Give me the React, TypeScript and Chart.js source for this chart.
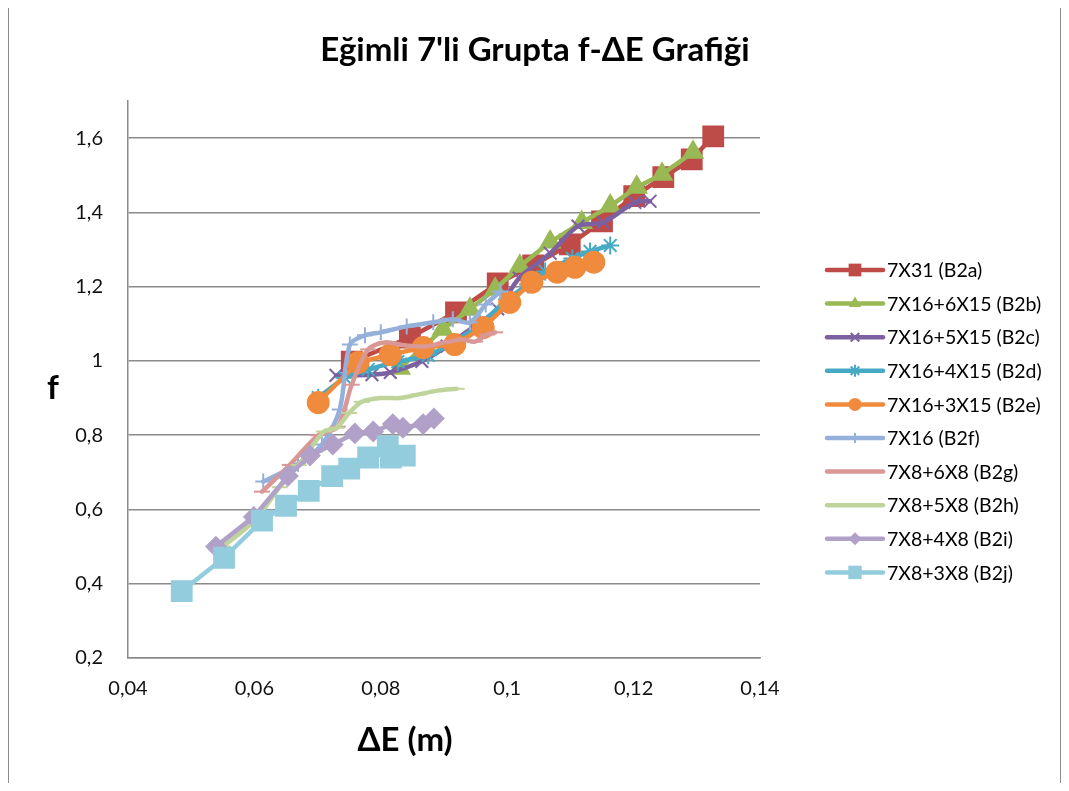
import { useEffect, useRef } from 'react';
import { Chart, registerables } from 'chart.js';

Chart.register(...registerables);

// ΔE (m) and f readings for each cable group
const titleText = "Eğimli 7'li Grupta f-ΔE Grafiği";
const xTitle = 'ΔE (m)';
const yTitle = 'f';

const seriesNames = [
  '7X31 (B2a)',
  '7X16+6X15 (B2b)',
  '7X16+5X15 (B2c)',
  '7X16+4X15 (B2d)',
  '7X16+3X15 (B2e)',
  '7X16 (B2f)',
  '7X8+6X8 (B2g)',
  '7X8+5X8 (B2h)',
  '7X8+4X8 (B2i)',
  '7X8+3X8 (B2j)',
];

const b2aE = [0.0754, 0.0846, 0.0919, 0.0985, 0.1041, 0.1099, 0.115, 0.1201, 0.1247, 0.1292, 0.1326];
const b2aF = [0.998, 1.063, 1.131, 1.209, 1.257, 1.314, 1.376, 1.444, 1.495, 1.543, 1.605];

const b2bE = [0.083, 0.0898, 0.0941, 0.0981, 0.102, 0.1068, 0.1118, 0.1163, 0.1205, 0.1245, 0.1294];
const b2bF = [0.98, 1.085, 1.139, 1.193, 1.255, 1.32, 1.373, 1.417, 1.468, 1.503, 1.562];

const b2cE = [0.0729, 0.0786, 0.0815, 0.0865, 0.0905, 0.0945, 0.0985, 0.1019, 0.1068, 0.1112, 0.1152, 0.1202, 0.1226];
const b2cF = [0.961, 0.963, 0.969, 0.999, 1.04, 1.09, 1.14, 1.223, 1.29, 1.363, 1.373, 1.427, 1.43];

const b2dE = [0.0701, 0.0743, 0.078, 0.0827, 0.0875, 0.0915, 0.0957, 0.1, 0.1033, 0.106, 0.1103, 0.1131, 0.1163];
const b2dF = [0.901, 0.955, 0.977, 0.998, 1.015, 1.05, 1.098, 1.166, 1.206, 1.241, 1.276, 1.295, 1.311];

const b2eE = [0.0701, 0.0764, 0.0815, 0.0867, 0.0917, 0.0962, 0.1004, 0.1039, 0.1079, 0.1107, 0.1137];
const b2eF = [0.888, 0.996, 1.017, 1.036, 1.044, 1.09, 1.158, 1.212, 1.239, 1.252, 1.266];

const b2fE = [0.0614, 0.0669, 0.0707, 0.0735, 0.0751, 0.0775, 0.08, 0.0841, 0.0883, 0.0914, 0.0941, 0.0966, 0.0989];
const b2fF = [0.675, 0.723, 0.775, 0.869, 1.044, 1.069, 1.077, 1.093, 1.104, 1.112, 1.104, 1.152, 1.187];

const b2gE = [0.0612, 0.0656, 0.0701, 0.0732, 0.0754, 0.078, 0.0807, 0.0838, 0.087, 0.0902, 0.0928, 0.0949, 0.0968, 0.0981];
const b2gF = [0.648, 0.72, 0.8, 0.823, 0.936, 1.031, 1.05, 1.042, 1.039, 1.05, 1.058, 1.052, 1.071, 1.077];

const b2hE = [0.055, 0.06, 0.064, 0.067, 0.071, 0.073, 0.075, 0.077, 0.08, 0.083, 0.086, 0.089, 0.092];
const b2hF = [0.5, 0.57, 0.66, 0.72, 0.81, 0.82, 0.86, 0.89, 0.9, 0.9, 0.91, 0.92, 0.925];

const b2iE = [0.0539, 0.0599, 0.0653, 0.0688, 0.0724, 0.0759, 0.0788, 0.0819, 0.0835, 0.0867, 0.0884];
const b2iF = [0.5, 0.58, 0.69, 0.745, 0.775, 0.805, 0.81, 0.83, 0.82, 0.83, 0.845];

const b2jE = [0.0485, 0.0552, 0.0612, 0.065, 0.0686, 0.0723, 0.075, 0.078, 0.0811, 0.0816, 0.0838];
const b2jF = [0.38, 0.47, 0.57, 0.61, 0.65, 0.69, 0.71, 0.74, 0.77, 0.74, 0.745];

const seriesE = [b2aE, b2bE, b2cE, b2dE, b2eE, b2fE, b2gE, b2hE, b2iE, b2jE];
const seriesF = [b2aF, b2bF, b2cF, b2dF, b2eF, b2fF, b2gF, b2hF, b2iF, b2jF];

const colors = [
  '#BE4B48', '#98B954', '#7D60A0', '#46AAC5', '#F08A3C',
  '#95B0DA', '#D99795', '#BFD49A', '#B1A0C7', '#93CDDD',
];
const markers = ['rect', 'triangle', 'crossRot', 'star', 'circle', 'cross', 'line', 'line', 'rectRot', 'rect'];
const markerRadius = [14, 11, 9, 9, 10.5, 8, 8, 8, 9.5, 14];
const legendMarkerRadius = [9, 7, 6, 6, 6.5, 5, 0, 0, 6.5, 9.5];
const smooth = [0, 0, 0.3, 0.15, 0, 0.3, 0.3, 0.3, 0, 0];

const xTicks = { min: 0.04, max: 0.14, step: 0.02 };
const yTicks = { min: 0.2, max: 1.7, step: 0.2 };

const FONT = 'Lato, "Open Sans", sans-serif';

function fmt(v: number) {
  return String(parseFloat(v.toFixed(3))).replace('.', ',');
}

function drawMarker(ctx: CanvasRenderingContext2D, style: string, x: number, y: number, r: number, color: string) {
  if (r <= 0) return;
  ctx.save();
  ctx.fillStyle = color;
  ctx.strokeStyle = color;
  ctx.lineWidth = 2;
  ctx.beginPath();
  switch (style) {
    case 'rect': {
      const s = r * Math.SQRT1_2;
      ctx.rect(x - s, y - s, 2 * s, 2 * s);
      ctx.fill();
      break;
    }
    case 'rectRot':
      ctx.moveTo(x, y - r);
      ctx.lineTo(x + r, y);
      ctx.lineTo(x, y + r);
      ctx.lineTo(x - r, y);
      ctx.closePath();
      ctx.fill();
      break;
    case 'triangle':
      ctx.moveTo(x, y - r);
      ctx.lineTo(x + r * 0.866, y + r * 0.5);
      ctx.lineTo(x - r * 0.866, y + r * 0.5);
      ctx.closePath();
      ctx.fill();
      break;
    case 'circle':
      ctx.arc(x, y, r, 0, Math.PI * 2);
      ctx.fill();
      break;
    case 'cross':
      ctx.moveTo(x, y - r);
      ctx.lineTo(x, y + r);
      ctx.stroke();
      break;
    case 'crossRot':
    case 'star': {
      const d = r * Math.SQRT1_2;
      ctx.moveTo(x - d, y - d);
      ctx.lineTo(x + d, y + d);
      ctx.moveTo(x + d, y - d);
      ctx.lineTo(x - d, y + d);
      if (style === 'star') {
        ctx.moveTo(x, y - r);
        ctx.lineTo(x, y + r);
      }
      ctx.stroke();
      break;
    }
    default:
      break;
  }
  ctx.restore();
}

// Title, axis titles and the legend column on the right
const decorPlugin = {
  id: 'decor',
  afterDraw(chart: any) {
    const ctx: CanvasRenderingContext2D = chart.ctx;
    ctx.save();
    ctx.fillStyle = '#000';
    ctx.textAlign = 'center';
    ctx.textBaseline = 'middle';
    ctx.font = `bold 33px ${FONT}`;
    ctx.fillText(titleText, 526, 42);
    ctx.font = `bold 33px ${FONT}`;
    ctx.fillText(yTitle, 44, 380);
    ctx.fillText(xTitle, 396, 732);

    const x0 = 818;
    const x1 = 874;
    const xm = (x0 + x1) / 2;
    ctx.textAlign = 'left';
    ctx.font = `19.5px ${FONT}`;
    seriesNames.forEach((name, i) => {
      const y = 262 + i * 33.6;
      ctx.save();
      ctx.strokeStyle = colors[i];
      ctx.lineWidth = 4.5;
      ctx.lineCap = 'round';
      ctx.beginPath();
      ctx.moveTo(x0, y);
      ctx.lineTo(x1, y);
      ctx.stroke();
      ctx.restore();
      drawMarker(ctx, markers[i], xm, y, legendMarkerRadius[i], colors[i]);
      ctx.fillStyle = '#000';
      ctx.fillText(name, 878, y + 1);
    });
    ctx.restore();
  },
};

export default function App() {
  const canvasRef = useRef<HTMLCanvasElement | null>(null);

  useEffect(() => {
    const canvas = canvasRef.current;
    if (!canvas) return;

    const datasets = seriesNames.map((name, i) => ({
      label: name,
      data: seriesE[i].map((e, k) => ({ x: e, y: seriesF[i][k] })),
      showLine: true,
      borderColor: colors[i],
      backgroundColor: colors[i],
      borderWidth: 4.5,
      borderJoinStyle: 'round' as const,
      borderCapStyle: 'round' as const,
      tension: smooth[i],
      pointStyle: markers[i],
      pointRadius: markerRadius[i],
      pointBorderWidth: 2,
      pointBorderColor: colors[i],
      pointBackgroundColor: colors[i],
      order: seriesNames.length - 1 - i,
    }));

    const chart = new Chart(canvas, {
      type: 'scatter',
      data: { datasets },
      plugins: [decorPlugin],
      options: {
        animation: false,
        responsive: false,
        maintainAspectRatio: false,
        layout: { padding: { top: 93, right: 300, left: 0, bottom: 0 } },
        plugins: {
          legend: { display: false },
          title: { display: false },
          tooltip: { enabled: false },
        },
        scales: {
          x: {
            type: 'linear',
            min: xTicks.min,
            max: xTicks.max,
            afterFit: (s: any) => { s.height = 125; },
            grid: { display: false, drawTicks: false },
            border: { display: true, color: '#8a8a8a', width: 1.5 },
            ticks: {
              stepSize: xTicks.step,
              padding: 19,
              color: '#111',
              font: { family: FONT, size: 20 },
              callback: (v: any) => fmt(Number(v)),
            },
          },
          y: {
            type: 'linear',
            min: yTicks.min,
            max: yTicks.max,
            afterFit: (s: any) => { s.width = 119; },
            afterBuildTicks: (s: any) => {
              s.ticks = s.ticks.filter((t: any) => {
                const q = (t.value - yTicks.min) / yTicks.step;
                return Math.abs(q - Math.round(q)) < 1e-6;
              });
            },
            grid: { color: '#8a8a8a', lineWidth: 1.5, drawTicks: false },
            border: { display: true, color: '#8a8a8a', width: 1.5 },
            ticks: {
              stepSize: yTicks.step,
              padding: 25,
              color: '#111',
              font: { family: FONT, size: 20 },
              callback: (v: any) => fmt(Number(v)),
            },
          },
        },
      },
    });

    return () => chart.destroy();
  }, []);

  return (
    <div
      style={{
        position: 'relative',
        width: 1051,
        height: 775,
        marginTop: -1,
        borderTop: '1px solid #8c8c8c',
        borderLeft: '1px solid #8c8c8c',
        borderRight: '1px solid #8c8c8c',
        background: '#fff',
      }}
    >
      <canvas ref={canvasRef} width={1051} height={775} style={{ display: 'block', width: 1051, height: 775 }} />
    </div>
  );
}
